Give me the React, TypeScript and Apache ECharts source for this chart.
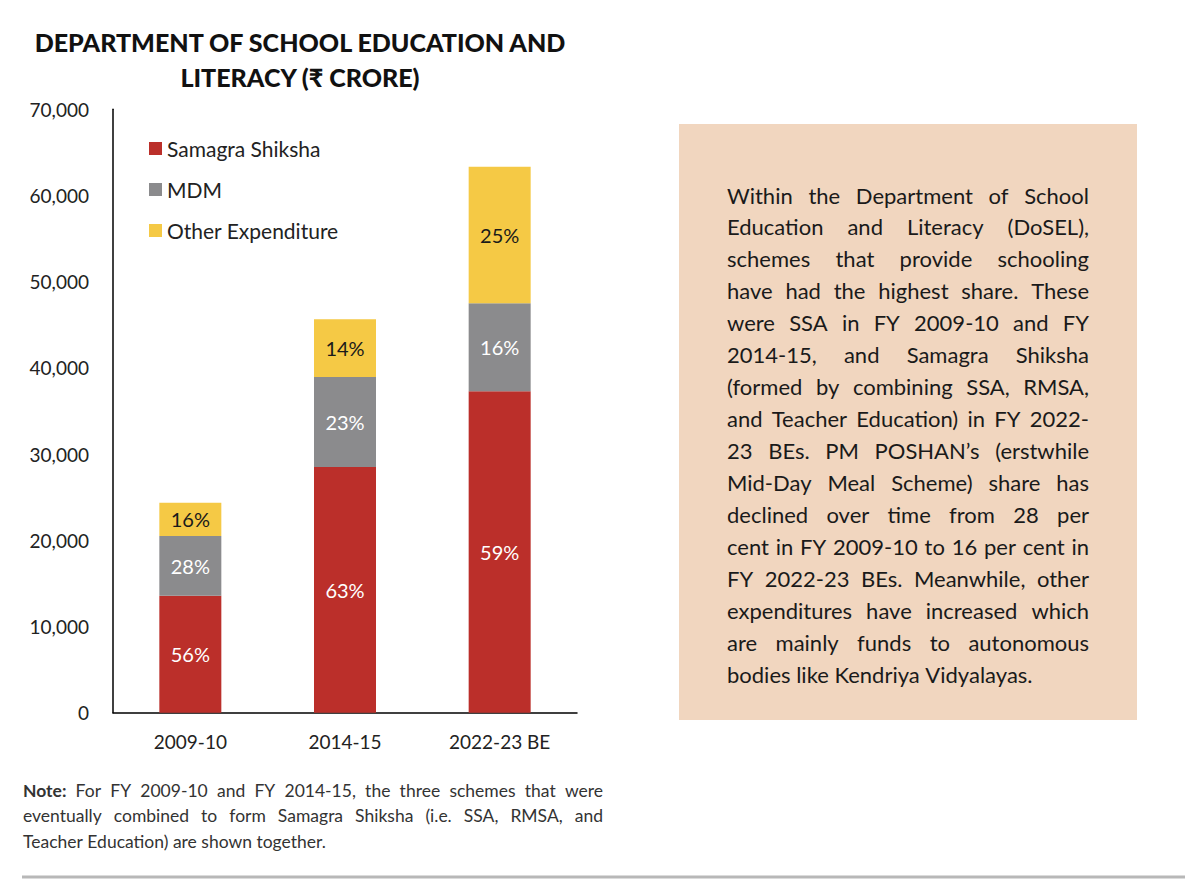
import React, { useEffect, useRef } from "react";
import * as echarts from "echarts";

const categories = ["2009-10", "2014-15", "2022-23 BE"];
const samagra = [13570, 28500, 37290];
const mdm = [6930, 10440, 10200];
const other = [3860, 6700, 15850];
const samagraShare = ["56%", "63%", "59%"];
const mdmShare = ["28%", "23%", "16%"];
const otherShare = ["16%", "14%", "25%"];
const seriesNames = ["Samagra Shiksha", "MDM", "Other Expenditure"];

const titleLines = ["DEPARTMENT OF SCHOOL EDUCATION AND", "LITERACY (₹ CRORE)"];

const paragraphLines = [
  "Within the Department of School",
  "Education and Literacy (DoSEL),",
  "schemes that provide schooling",
  "have had the highest share. These",
  "were SSA in FY 2009-10 and FY",
  "2014-15, and Samagra Shiksha",
  "(formed by combining SSA, RMSA,",
  "and Teacher Education) in FY 2022-",
  "23 BEs. PM POSHAN’s (erstwhile",
  "Mid-Day Meal Scheme) share has",
  "declined over time from 28 per",
  "cent in FY 2009-10 to 16 per cent in",
  "FY 2022-23 BEs. Meanwhile, other",
  "expenditures have increased which",
  "are mainly funds to autonomous",
  "bodies like Kendriya Vidyalayas.",
];

const noteLines = [
  "Note: For FY 2009-10 and FY 2014-15, the three schemes that were",
  "eventually combined to form Samagra Shiksha (i.e. SSA, RMSA, and",
  "Teacher Education) are shown together.",
];

const FONT = "Lato, 'Noto Sans', 'DejaVu Sans', sans-serif";
const COLORS = ["#bb2f2a", "#8b8b8d", "#f5c945"];

let mctx: CanvasRenderingContext2D | null = null;
function measure(text: string, size: number, weight = "normal"): number {
  if (!mctx) mctx = document.createElement("canvas").getContext("2d");
  if (!mctx) return text.length * size * 0.5;
  mctx.font = `${weight} ${size}px ${FONT}`;
  return mctx.measureText(text).width;
}

function fitSize(lines: string[], width: number, base: number, bold: Set<string>): number {
  let maxW = 0;
  lines.forEach((l) => {
    const words = l.split(" ");
    let w = 0;
    words.forEach((wd) => (w += measure(wd, base, bold.has(wd) ? "bold" : "normal")));
    w += measure(" ", base) * (words.length - 1) * 0.9;
    maxW = Math.max(maxW, w);
  });
  return Math.min(base, (base * width) / maxW);
}

function justified(
  lines: string[],
  x0: number,
  width: number,
  y0: number,
  lineH: number,
  size: number,
  color: string,
  bold: Set<string>
): any[] {
  const els: any[] = [];
  lines.forEach((line, i) => {
    const words = line.split(" ");
    const widths = words.map((w) => measure(w, size, bold.has(w) ? "bold" : "normal"));
    const sum = widths.reduce((a, b) => a + b, 0);
    const last = i === lines.length - 1;
    const space = measure(" ", size);
    const gap = last || words.length < 2 ? space : (width - sum) / (words.length - 1);
    let x = x0;
    words.forEach((w, j) => {
      els.push({
        type: "text",
        x,
        y: y0 + i * lineH,
        silent: true,
        style: {
          text: w,
          fontSize: size,
          fontFamily: FONT,
          fontWeight: bold.has(w) ? "bold" : "normal",
          fill: color,
          align: "left",
          verticalAlign: "middle",
        },
      });
      x += widths[j] + gap;
    });
  });
  return els;
}

function App() {
  const ref = useRef<HTMLDivElement>(null);
  useEffect(() => {
    if (!ref.current) return;
    const chart = echarts.init(ref.current, undefined, { renderer: "svg" });

    const titleSize = Math.min(30, (25 * 534) / measure(titleLines[0], 25, "900"));
    const paraSize = fitSize(paragraphLines, 362, 22, new Set());
    const noteBold = new Set(["Note:"]);
    const noteSize = fitSize(noteLines, 580, 17.5, noteBold);

    const graphic: any[] = [
      ...titleLines.map((t, i) => ({
        type: "text",
        x: 300,
        y: 42 + i * 35,
        silent: true,
        style: {
          text: t,
          fontSize: titleSize,
          fontFamily: FONT,
          fontWeight: 900,
          fill: "#111",
          align: "center",
          verticalAlign: "middle",
        },
      })),
      {
        type: "rect",
        shape: { x: 679, y: 124, width: 458, height: 596 },
        style: { fill: "#f1d6bf" },
        silent: true,
        z: -1,
      },
      ...justified(paragraphLines, 727, 362, 195, 31.95, paraSize, "#1a1a1a", new Set()),
      ...justified(noteLines, 23, 580, 790, 25.5, noteSize, "#333", noteBold),
      {
        type: "line",
        shape: { x1: 22, y1: 877, x2: 1185, y2: 877 },
        style: { stroke: "#b8b8b8", lineWidth: 3 },
        silent: true,
      },
    ];

    const shares = [samagraShare, mdmShare, otherShare];
    const values = [samagra, mdm, other];
    const labelColors = ["#ffffff", "#ffffff", "#1a1a1a"];

    chart.setOption({
      animation: false,
      textStyle: { fontFamily: FONT },
      grid: { left: 113, right: 623, top: 109.3, bottom: 177.3 },
      legend: {
        data: seriesNames,
        orient: "vertical",
        left: 149,
        top: 138,
        padding: 0,
        icon: "rect",
        itemWidth: 13,
        itemHeight: 13,
        itemGap: 20,
        textStyle: { fontSize: 21, color: "#222", fontFamily: FONT },
        selectedMode: false,
      },
      xAxis: {
        type: "category",
        data: categories,
        axisLine: { show: true, lineStyle: { color: "#000", width: 1.5 } },
        axisTick: { show: false },
        axisLabel: { fontSize: 19, color: "#222", margin: 19, fontFamily: FONT },
      },
      yAxis: {
        type: "value",
        min: 0,
        max: 70000,
        interval: 10000,
        axisLine: { show: true, lineStyle: { color: "#000", width: 1.5 } },
        axisTick: { show: false },
        splitLine: { show: false },
        axisLabel: {
          fontSize: 19,
          color: "#222",
          margin: 24,
          fontFamily: FONT,
          formatter: (v: number) => v.toLocaleString("en-US"),
        },
      },
      series: seriesNames.map((name, k) => ({
        name,
        type: "bar",
        stack: "total",
        barWidth: 62,
        data: values[k],
        itemStyle: { color: COLORS[k] },
        label: {
          show: true,
          position: "inside",
          fontSize: 20,
          fontFamily: FONT,
          color: labelColors[k],
          formatter: (p: any) => shares[k][p.dataIndex],
        },
      })),
      graphic,
    });
    return () => chart.dispose();
  }, []);
  return (
    <div
      ref={ref}
      style={{ position: "absolute", left: 0, top: 0, width: 1200, height: 890, background: "#fff" }}
    />
  );
}

export default App;
